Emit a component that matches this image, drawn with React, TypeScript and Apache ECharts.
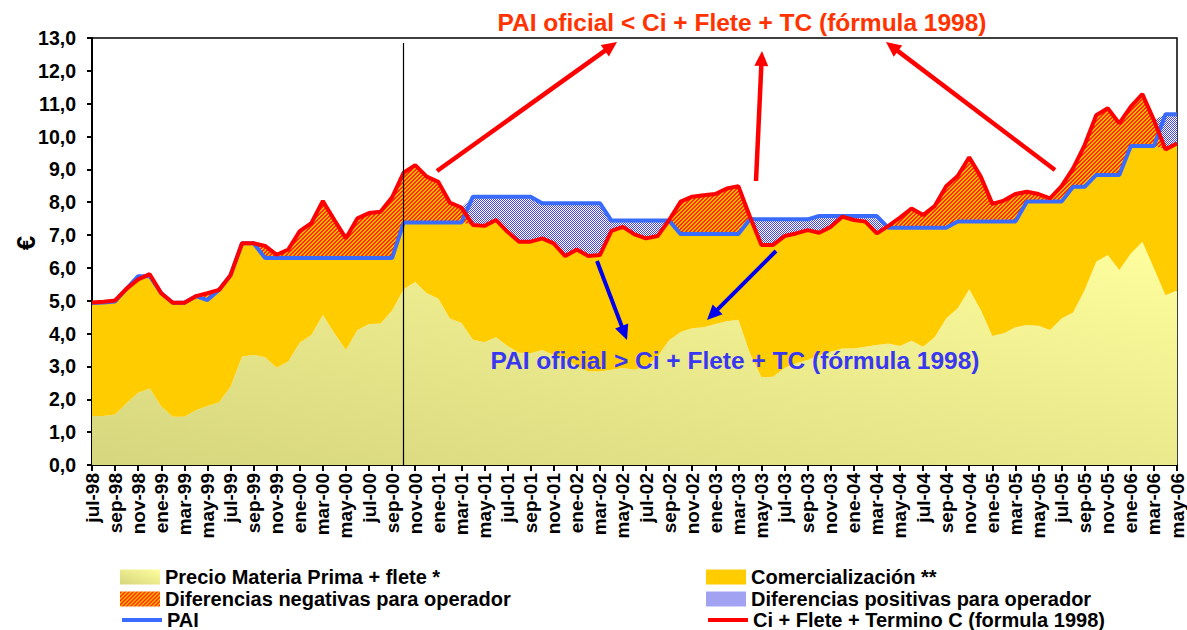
import React, { useEffect, useRef } from 'react';
import * as echarts from 'echarts';

const months = [
  'jul-98','ago-98','sep-98','oct-98','nov-98','dic-98',
  'ene-99','feb-99','mar-99','abr-99','may-99','jun-99','jul-99','ago-99','sep-99','oct-99','nov-99','dic-99',
  'ene-00','feb-00','mar-00','abr-00','may-00','jun-00','jul-00','ago-00','sep-00','oct-00','nov-00','dic-00',
  'ene-01','feb-01','mar-01','abr-01','may-01','jun-01','jul-01','ago-01','sep-01','oct-01','nov-01','dic-01',
  'ene-02','feb-02','mar-02','abr-02','may-02','jun-02','jul-02','ago-02','sep-02','oct-02','nov-02','dic-02',
  'ene-03','feb-03','mar-03','abr-03','may-03','jun-03','jul-03','ago-03','sep-03','oct-03','nov-03','dic-03',
  'ene-04','feb-04','mar-04','abr-04','may-04','jun-04','jul-04','ago-04','sep-04','oct-04','nov-04','dic-04',
  'ene-05','feb-05','mar-05','abr-05','may-05','jun-05','jul-05','ago-05','sep-05','oct-05','nov-05','dic-05',
  'ene-06','feb-06','mar-06','abr-06','may-06'
];

const materiaPrima = [
  1.49,1.49,1.54,1.88,2.20,2.33,1.78,1.47,1.47,1.67,
  1.80,1.90,2.38,3.30,3.35,3.28,2.96,3.15,3.72,3.96,
  4.57,4.01,3.50,4.11,4.29,4.31,4.70,5.35,5.57,5.23,
  5.07,4.46,4.33,3.81,3.74,3.89,3.62,3.42,3.40,3.50,
  3.35,3.25,3.00,2.85,2.85,2.90,2.95,2.90,3.00,3.30,
  3.80,4.05,4.16,4.19,4.29,4.38,4.42,3.40,2.67,2.69,
  2.95,3.10,3.20,3.35,3.45,3.55,3.55,3.60,3.65,3.70,
  3.62,3.78,3.60,3.89,4.46,4.77,5.35,4.72,3.93,4.01,
  4.19,4.26,4.24,4.11,4.46,4.64,5.33,6.19,6.39,5.94,
  6.44,6.80,5.99,5.17,5.31
];

const pai = [
  4.93,4.95,4.98,5.37,5.75,5.75,5.23,4.94,4.94,5.14,
  5.02,5.33,5.78,6.75,6.75,6.30,6.30,6.30,6.30,6.30,
  6.30,6.30,6.30,6.30,6.30,6.30,6.30,7.38,7.38,7.38,
  7.38,7.38,7.38,8.17,8.17,8.17,8.17,8.17,8.17,7.97,
  7.97,7.97,7.97,7.97,7.97,7.44,7.44,7.44,7.44,7.44,
  7.44,7.03,7.03,7.03,7.03,7.03,7.03,7.48,7.48,7.48,
  7.48,7.48,7.48,7.58,7.58,7.58,7.58,7.58,7.58,7.22,
  7.22,7.22,7.22,7.22,7.22,7.41,7.41,7.41,7.41,7.41,
  7.41,8.02,8.02,8.02,8.02,8.47,8.47,8.83,8.83,8.83,
  9.71,9.71,9.71,10.68,10.68
];

const ciFleteTC = [
  4.95,4.97,5.01,5.37,5.65,5.81,5.23,4.94,4.94,5.14,
  5.23,5.33,5.78,6.75,6.75,6.67,6.40,6.56,7.12,7.36,
  8.04,7.46,6.90,7.51,7.67,7.71,8.15,8.90,9.13,8.78,
  8.62,7.99,7.84,7.31,7.28,7.46,7.10,6.80,6.80,6.90,
  6.75,6.36,6.56,6.36,6.39,7.13,7.25,7.02,6.90,6.97,
  7.46,8.02,8.17,8.21,8.25,8.42,8.49,7.56,6.70,6.70,
  6.97,7.05,7.15,7.07,7.25,7.56,7.46,7.41,7.05,7.28,
  7.53,7.81,7.61,7.88,8.49,8.80,9.37,8.78,7.95,8.05,
  8.25,8.32,8.25,8.12,8.49,9.03,9.74,10.65,10.86,10.40,
  10.91,11.29,10.50,9.61,9.79
];

const N_BASE = 'Precio Materia Prima + flete *';
const N_COM = 'Comercialización **';
const N_NEG = 'Diferencias negativas para operador';
const N_POS = 'Diferencias positivas para operador';
const N_PAI = 'PAI';
const N_CI = 'Ci + Flete + Termino C (formula 1998)';

const TITLE_RED = 'PAI oficial < Ci + Flete + TC (fórmula 1998)';
const TITLE_BLUE = 'PAI oficial > Ci + Flete + TC (fórmula 1998)';
const Y_NAME = '€';
const DIVIDER_MONTH = 'oct-00';

const FONT = '"Liberation Sans", Arial, sans-serif';

function makeTile(bg: string, fg: string, on: (x: number, y: number) => boolean) {
  const c = document.createElement('canvas');
  c.width = 4;
  c.height = 4;
  const ctx = c.getContext('2d')!;
  ctx.fillStyle = bg;
  ctx.fillRect(0, 0, 4, 4);
  ctx.fillStyle = fg;
  for (let y = 0; y < 4; y++) {
    for (let x = 0; x < 4; x++) {
      if (on(x, y)) ctx.fillRect(x, y, 1, 1);
    }
  }
  return { image: c, repeat: 'repeat', imageWidth: 4, imageHeight: 4 } as any;
}

function arrow(x1: number, y1: number, x2: number, y2: number, color: string, width: number) {
  const dx = x2 - x1, dy = y2 - y1;
  const len = Math.hypot(dx, dy);
  const ux = dx / len, uy = dy / len;
  const hl = 15, hw = 7;
  const bx = x2 - ux * hl, by = y2 - uy * hl;
  return [
    { type: 'line', z: 100, shape: { x1, y1, x2: bx + ux * 2, y2: by + uy * 2 }, style: { stroke: color, lineWidth: width } },
    {
      type: 'polygon', z: 100,
      shape: { points: [[x2, y2], [bx - uy * hw, by + ux * hw], [bx + uy * hw, by - ux * hw]] },
      style: { fill: color }
    }
  ];
}

export default function App() {
  const ref = useRef<HTMLDivElement>(null);

  useEffect(() => {
    if (!ref.current) return;
    const chart = echarts.init(ref.current, null, { renderer: 'svg' });

    const orangePattern = makeTile('#FFB800', '#FF2A00', (x, y) => ((x + y) % 4) < 2);
    const bluePattern = makeTile('#FFFFFF', '#4646E6', (x, y) => ((x - y + 8) % 2) === 0);
    const baseGradient = new echarts.graphic.LinearGradient(0, 1, 1, 0, [
      { offset: 0, color: '#D6D67E' },
      { offset: 0.55, color: '#ECEB8E' },
      { offset: 1, color: '#FFFF9E' }
    ]);

    const comercializacion = months.map((_, i) => +(Math.min(pai[i], ciFleteTC[i]) - materiaPrima[i]).toFixed(3));
    const negativas = months.map((_, i) => +Math.max(ciFleteTC[i] - pai[i], 0).toFixed(3));
    const positivas = months.map((_, i) => +Math.max(pai[i] - ciFleteTC[i], 0).toFixed(3));

    const areaSeries = (name: string, data: number[], color: any) => ({
      name, type: 'line', stack: 'total', data, symbol: 'none', showSymbol: false,
      color, lineStyle: { width: 0 }, areaStyle: { color, opacity: 1 }, itemStyle: { color },
      emphasis: { disabled: true }, silent: true
    });

    const textStyle = { fontFamily: FONT, fontWeight: 'bold', fontSize: 20, color: '#000' };

    const legendItem = (name: string, left: number, top: number, isLine: boolean) => ({
      orient: 'horizontal', left, top, padding: 0, itemWidth: 40, itemHeight: 15, itemGap: 0,
      selectedMode: false, textStyle,
      data: [isLine
        ? { name, itemStyle: { opacity: 0 }, lineStyle: { width: 4 } }
        : { name, icon: 'rect' }]
    });

    chart.setOption({
      animation: false,
      backgroundColor: '#fff',
      grid: {
        left: 92, right: 10, top: 38, bottom: 165, outerBoundsMode: 'none', containLabel: false,
        show: true, borderColor: '#000', borderWidth: 1.5, backgroundColor: 'transparent'
      },
      xAxis: {
        type: 'category', data: months, boundaryGap: false,
        axisLine: { lineStyle: { color: '#000', width: 2 } },
        axisTick: { show: true, interval: 1, length: 6, lineStyle: { color: '#000', width: 2 } },
        axisLabel: { interval: 1, rotate: 90, margin: 8, fontFamily: FONT, fontWeight: 'bold', fontSize: 19, color: '#000' },
        splitLine: { show: false }
      },
      yAxis: {
        type: 'value', min: 0, max: 13, interval: 1,
        axisLine: { show: true, lineStyle: { color: '#000', width: 2 } },
        axisTick: { show: true, length: 5, lineStyle: { color: '#000', width: 2 } },
        axisLabel: {
          margin: 16, fontFamily: FONT, fontWeight: 'bold', fontSize: 19.5, color: '#000',
          formatter: (v: number) => v.toFixed(1).replace('.', ',')
        },
        splitLine: { show: false }
      },
      legend: [
        legendItem(N_BASE, 120, 567, false),
        legendItem(N_NEG, 120, 589, false),
        legendItem(N_PAI, 120, 610, true),
        legendItem(N_COM, 706, 567, false),
        legendItem(N_POS, 706, 589, false),
        legendItem(N_CI, 706, 610, true)
      ],
      series: [
        areaSeries(N_BASE, materiaPrima, baseGradient),
        areaSeries(N_COM, comercializacion, '#FFCC00'),
        areaSeries(N_NEG, negativas, orangePattern),
        areaSeries(N_POS, positivas, bluePattern),
        {
          name: N_PAI, type: 'line', data: pai, symbol: 'none', showSymbol: false,
          color: '#3A6BFF', lineStyle: { color: '#3A6BFF', width: 4 }, silent: true,
          markLine: {
            silent: true, symbol: ['none', 'none'], label: { show: false },
            lineStyle: { color: '#000', width: 1.2, type: 'solid' },
            data: [[{ coord: [DIVIDER_MONTH, 12.85] }, { coord: [DIVIDER_MONTH, 0] }]]
          }
        },
        {
          name: N_CI, type: 'line', data: ciFleteTC, symbol: 'none', showSymbol: false,
          color: '#FF0000', lineStyle: { color: '#FF0000', width: 4 }, silent: true
        }
      ],
      graphic: [
        {
          type: 'text', z: 100, x: 742, y: 22,
          style: { text: TITLE_RED, fill: '#FF3300', font: `bold 24.5px ${FONT}`, textAlign: 'center', textVerticalAlign: 'middle' }
        },
        {
          type: 'text', z: 100, x: 735, y: 360,
          style: { text: TITLE_BLUE, fill: '#3838F2', font: `bold 24.5px ${FONT}`, textAlign: 'center', textVerticalAlign: 'middle' }
        },
        {
          type: 'text', z: 100, x: 26, y: 243, rotation: Math.PI / 2,
          style: { text: Y_NAME, fill: '#000', font: `bold 26px ${FONT}`, textAlign: 'center', textVerticalAlign: 'middle' }
        },
        ...arrow(437, 171, 617, 42, '#FF0000', 4.5),
        ...arrow(756, 181, 762, 51, '#FF0000', 4.5),
        ...arrow(1055, 170, 886, 42, '#FF0000', 4.5),
        ...arrow(597, 261, 627, 340, '#0000EE', 4),
        ...arrow(776, 251, 707, 320, '#0000EE', 4)
      ]
    } as any);

    return () => chart.dispose();
  }, []);

  return <div ref={ref} style={{ position: 'absolute', left: 0, top: 0, width: 1187, height: 630 }} />;
}
